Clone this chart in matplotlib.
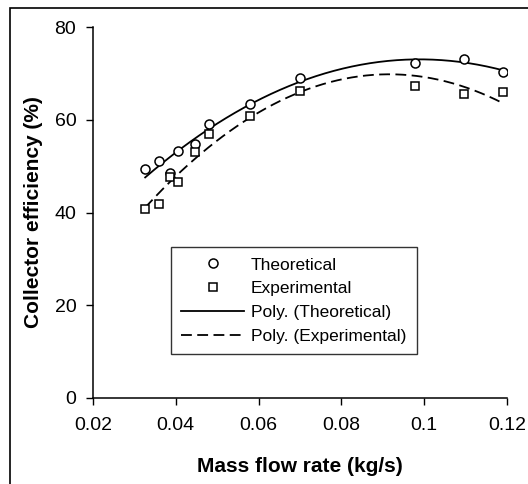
import numpy as np
import matplotlib
matplotlib.use('Agg')
import matplotlib.pyplot as plt
from matplotlib.patches import Rectangle

plt.rcParams['font.family'] = ['Liberation Sans', 'DejaVu Sans']

# mass flow rate (kg/s) and efficiencies (%)
flow = [0.0326, 0.0359, 0.0386, 0.0406, 0.0446, 0.0480, 0.0579, 0.0700, 0.0978, 0.1097, 0.1190]
theoretical = [49.4, 51.2, 48.6, 53.3, 54.7, 59.0, 63.4, 69.1, 72.3, 73.1, 70.3]
experimental = [40.7, 41.8, 47.7, 46.5, 53.1, 56.9, 60.8, 66.2, 67.3, 65.5, 65.9]

x_ticks = [0.02, 0.04, 0.06, 0.08, 0.1, 0.12]
x_labels = ['0.02', '0.04', '0.06', '0.08', '0.1', '0.12']
y_ticks = [0, 20, 40, 60, 80]

fig = plt.figure(figsize=(5.28, 4.84), dpi=100)
ax = fig.add_axes([93 / 528, 1 - 398 / 484, 414 / 528, 371 / 484])

# outer frame of the chart area (only top and left are inside the image)
fig.patches.append(Rectangle((10 / 528, -0.1), 1.2, (484 - 8) / 484 + 0.1,
                             transform=fig.transFigure, fill=False,
                             edgecolor='black', linewidth=1.2))

ax.plot(flow, theoretical, 'o', mfc='white', mec='black', ms=6.5, mew=1.1,
        label='Theoretical', zorder=3)
ax.plot(flow, experimental, 's', mfc='white', mec='black', ms=6.0, mew=1.1,
        label='Experimental', zorder=3)

# excel-style polynomial trendlines
xs = np.linspace(min(flow), max(flow), 200)
pt = np.polyfit(flow, theoretical, 2)
pe = np.polyfit(flow, experimental, 2)
ax.plot(xs, np.polyval(pt, xs), '-', color='black', lw=1.3, label='Poly. (Theoretical)')
ax.plot(xs, np.polyval(pe, xs), '--', color='black', lw=1.3, dashes=(6, 3),
        label='Poly. (Experimental)')

ax.set_xlim(0.02, 0.12)
ax.set_ylim(0, 80)
ax.set_xticks(x_ticks)
ax.set_xticklabels(x_labels)
ax.set_yticks(y_ticks)
ax.tick_params(labelsize=14, length=5, width=1, direction='out')
ax.tick_params(axis='x', pad=9)
ax.tick_params(axis='y', pad=7)
ax.spines['top'].set_visible(False)
ax.spines['right'].set_visible(False)
ax.spines['left'].set_linewidth(1.1)
ax.spines['bottom'].set_linewidth(1.1)

ax.set_xlabel('Mass flow rate (kg/s)', fontsize=15, fontweight='bold', labelpad=16)
ax.set_ylabel('Collector efficiency (%)', fontsize=15, fontweight='bold', labelpad=8)

leg = ax.legend(loc='upper left', bbox_to_anchor=((171 - 93) / 414, (398 - 247) / 371),
                fontsize=12.5, frameon=True, fancybox=False, shadow=False,
                handlelength=3.6, handletextpad=0.4, labelspacing=0.5,
                borderpad=0.6, borderaxespad=0)
leg.get_frame().set_edgecolor('black')
leg.get_frame().set_linewidth(1.0)

fig.savefig('out.png', dpi=100)
